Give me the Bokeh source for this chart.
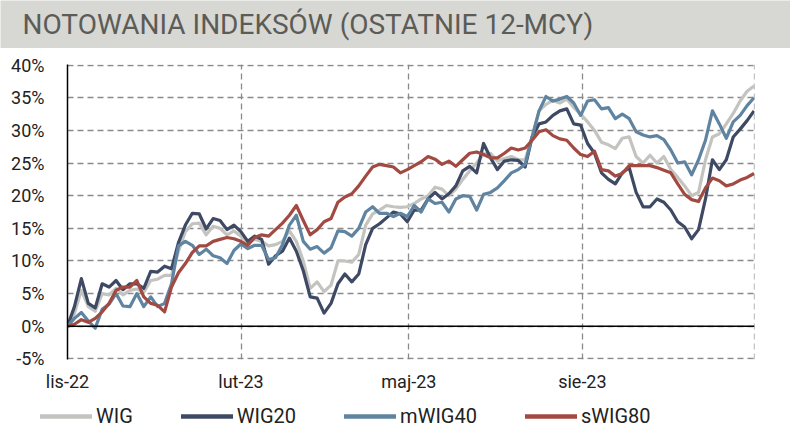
import pandas as pd
from bokeh.plotting import figure
from bokeh.layouts import column
from bokeh.models import Range1d, FixedTicker, PrintfTickFormatter, Span, Legend, LegendItem
from bokeh.core.properties import value
from bokeh.embed import file_html
from bokeh.resources import INLINE

title_text = "NOTOWANIA INDEKSÓW (OSTATNIE 12-MCY)"
start_date = "2022-11-01"
end_date = "2023-10-31"
n_points = 100
tick_dates = ["2022-11-01", "2023-02-01", "2023-05-01", "2023-08-01"]
tick_labels = ["lis-22", "lut-23", "maj-23", "sie-23"]
series_names = ["WIG", "WIG20", "mWIG40", "sWIG80"]

wig = [0, 2.0, 5.5, 3.0, 2.3, 5.0, 4.8, 5.8, 4.8, 5.5,
       5.7, 5.2, 7.0, 7.2, 7.8, 7.8, 11.5, 14.5, 15.7, 15.8,
       14.0, 15.3, 15.0, 14.0, 14.6, 13.8, 12.8, 13.3, 13.0, 12.3,
       12.5, 13.0, 14.6, 13.0, 10.0, 5.8, 6.8, 5.3, 6.3, 10.0,
       10.0, 9.8, 11.0, 15.5, 17.2, 17.8, 18.5, 18.3, 18.2, 18.3,
       18.8, 19.5, 20.0, 21.3, 21.0, 20.0, 21.0, 22.5, 23.8, 25.0,
       26.4, 26.5, 25.3, 25.7, 26.0, 25.5, 25.5, 29.0, 33.0, 34.0,
       34.6, 34.2, 34.8, 33.5, 32.5, 31.3, 30.0, 28.2, 27.8, 27.2,
       28.8, 29.0, 26.0, 25.0, 26.2, 25.0, 26.0, 24.0, 22.8, 21.5,
       20.0, 20.5, 25.5, 29.0, 29.5, 31.0, 32.6, 34.5, 36.0, 36.8]

wig20 = [0, 3.0, 7.3, 3.5, 2.8, 6.5, 6.0, 7.0, 5.6, 6.5,
         6.5, 5.8, 8.4, 8.3, 9.2, 8.8, 12.8, 15.5, 17.3, 17.2,
         14.9, 16.5, 16.2, 14.8, 15.5, 14.5, 13.0, 13.8, 13.3, 9.5,
         10.8, 11.5, 13.5, 11.5, 8.5, 4.5, 4.3, 2.0, 3.5, 6.5,
         8.0, 6.8, 8.0, 12.5, 15.0, 15.7, 16.6, 17.5, 17.2, 16.0,
         17.8, 17.8, 19.5, 20.5, 19.5, 20.3, 21.5, 23.8, 24.5, 23.5,
         28.0, 25.8, 24.0, 25.3, 25.5, 25.4, 24.4, 29.0, 31.0, 31.3,
         32.3, 33.0, 33.3, 31.0, 30.8, 28.0, 26.5, 23.5, 22.5, 21.8,
         23.5, 24.3, 20.5, 18.3, 18.3, 19.5, 19.0, 17.8, 16.0, 15.2,
         13.4, 14.8, 19.5, 25.5, 24.0, 25.5, 29.0, 30.2, 31.5, 33.0]

mwig40 = [0, 1.2, 2.1, 0.8, -0.3, 2.6, 3.4, 5.0, 3.1, 3.0,
          5.0, 3.0, 4.5, 3.0, 3.5, 6.5, 12.3, 13.0, 12.4, 11.0,
          11.8, 10.8, 10.5, 9.6, 11.6, 12.6, 11.9, 12.4, 12.4, 10.2,
          10.5, 12.5, 15.5, 17.0, 13.0, 11.8, 12.2, 11.2, 12.0, 14.6,
          14.5, 13.8, 15.0, 17.5, 18.3, 17.3, 17.3, 16.8, 17.3, 16.8,
          18.5, 17.5, 19.5, 18.8, 19.0, 17.5, 19.5, 20.0, 19.9, 17.8,
          20.2, 20.5, 21.2, 22.3, 23.5, 24.0, 24.8, 29.0, 33.0, 35.2,
          34.5, 34.8, 35.2, 34.2, 32.3, 34.5, 34.7, 33.3, 33.5, 31.8,
          32.5, 31.8, 29.8, 29.3, 29.0, 29.2, 28.6, 27.0, 25.0, 25.2,
          23.2, 25.5, 28.5, 33.0, 31.0, 28.8, 31.3, 32.3, 33.8, 35.0]

swig80 = [0, 0.3, 1.0, 0.6, 1.2, 2.2, 3.5, 5.5, 6.0, 6.0,
          7.0, 4.5, 3.5, 3.2, 2.2, 6.0, 8.2, 9.6, 11.3, 12.3,
          12.3, 13.0, 13.3, 13.6, 13.4, 13.0, 12.4, 13.6, 14.0, 13.8,
          14.8, 15.8, 17.0, 18.5, 16.2, 14.0, 14.8, 16.0, 16.5, 19.0,
          19.8, 20.3, 21.5, 23.0, 24.4, 24.8, 24.6, 24.4, 23.5, 24.0,
          24.6, 25.2, 26.0, 25.6, 24.8, 25.3, 24.5, 25.5, 26.5, 26.7,
          26.3, 25.8, 25.8, 26.5, 27.3, 27.0, 27.3, 28.5, 29.8, 30.1,
          29.2, 28.7, 28.5, 27.3, 26.3, 26.0, 26.8, 24.0, 23.8, 23.0,
          23.4, 24.6, 24.6, 24.6, 24.6, 24.3, 23.9, 23.5, 21.8, 20.2,
          19.4, 19.1, 21.2, 22.7, 22.3, 21.5, 21.8, 22.4, 22.8, 23.4]

dates = pd.date_range(start_date, end_date, periods=n_points)
series_values = [wig, wig20, mwig40, swig80]
colors = ["#c3c3bf", "#3e4a64", "#5f84a1", "#a24a42"]
LINE_W = 3.2

FONT = value("Roboto")
PAGE_W = 790

# ---- title bar ----
bar_h = 48
pt = figure(frame_width=PAGE_W, frame_height=bar_h, x_range=Range1d(0, PAGE_W), y_range=Range1d(0, bar_h),
            output_backend="svg", toolbar_location=None, min_border=0,
            x_axis_location=None, y_axis_location=None,
            background_fill_color="#d7d7d3", border_fill_color="#d7d7d3")
pt.frame_align = False
pt.outline_line_color = None
pt.grid.visible = False
pt.text(x=[22], y=[bar_h / 2], text=[title_text], text_baseline="middle", text_align="left",
        text_font=FONT, text_font_size="28px", text_color="#5c5c57")

# ---- main chart ----
x0 = pd.Timestamp(start_date)
x1 = pd.Timestamp(end_date)
pad = pd.Timedelta(hours=6)
p = figure(frame_width=687, frame_height=295, x_axis_type="datetime", output_backend="svg",
           toolbar_location=None, x_range=Range1d(x0, x1 + pad), y_range=Range1d(-5.1, 40.1),
           min_border_left=67, min_border_right=36, min_border_top=16, min_border_bottom=40)
p.frame_align = False
p.outline_line_color = None
p.background_fill_color = "white"

tick_ms = [pd.Timestamp(d).value // 10**6 for d in tick_dates]
end_ms = x1.value // 10**6
p.xaxis.ticker = FixedTicker(ticks=tick_ms)
p.xaxis.major_label_overrides = {float(t): lab for t, lab in zip(tick_ms, tick_labels)}
p.xaxis.axis_line_color = None
p.xaxis.major_tick_line_color = None
p.xaxis.minor_tick_line_color = None
p.xaxis.major_label_standoff = 5
p.xaxis.major_label_text_font = "Roboto"
p.xaxis.major_label_text_font_size = "18px"
p.xaxis.major_label_text_color = "#222222"

y_ticks = list(range(-5, 45, 5))
p.yaxis.ticker = FixedTicker(ticks=y_ticks)
p.yaxis.formatter = PrintfTickFormatter(format="%d%%")
p.yaxis.axis_line_color = "black"
p.yaxis.axis_line_width = 1.5
p.yaxis.major_tick_line_color = None
p.yaxis.minor_tick_line_color = None
p.yaxis.major_label_standoff = 17
p.yaxis.major_label_text_font = "Roboto"
p.yaxis.major_label_text_font_size = "18px"
p.yaxis.major_label_text_color = "#222222"

p.xgrid.ticker = FixedTicker(ticks=tick_ms[1:] + [end_ms])
p.ygrid.ticker = FixedTicker(ticks=y_ticks)
for g in (p.xgrid, p.ygrid):
    g.grid_line_color = "#8a8a8a"
    g.grid_line_dash = "6 4"
    g.grid_line_width = 1.3

p.add_layout(Span(location=0, dimension="width", line_color="black", line_width=1.5))

for vals, col in zip(series_values, colors):
    p.line(dates, vals, line_color=col, line_width=LINE_W, line_join="round")

# ---- legend strip (its series lie outside this strip's range, only the legend shows) ----
leg_h = 30
pl = figure(frame_width=PAGE_W, frame_height=leg_h, x_range=Range1d(0, 1), y_range=Range1d(0, 1),
            output_backend="svg", toolbar_location=None, min_border=0,
            x_axis_location=None, y_axis_location=None)
pl.frame_align = False
pl.outline_line_color = None
pl.grid.visible = False
leg_renderers = [pl.line(dates, vals, line_color=col, line_width=4.5, line_cap="round")
                 for vals, col in zip(series_values, colors)]
leg = Legend(items=[LegendItem(label=n, renderers=[r]) for n, r in zip(series_names, leg_renderers)],
             location=(40, 1), orientation="horizontal", padding=0, margin=0, spacing=48,
             glyph_width=52, glyph_height=20, label_height=20, label_standoff=4,
             label_text_font="Roboto", label_text_font_size="20px", label_text_color="#222222",
             background_fill_alpha=0, border_line_color=None)
pl.add_layout(leg)

layout = column(pt, p, pl)
open("out.html", "w").write(file_html(layout, INLINE))
